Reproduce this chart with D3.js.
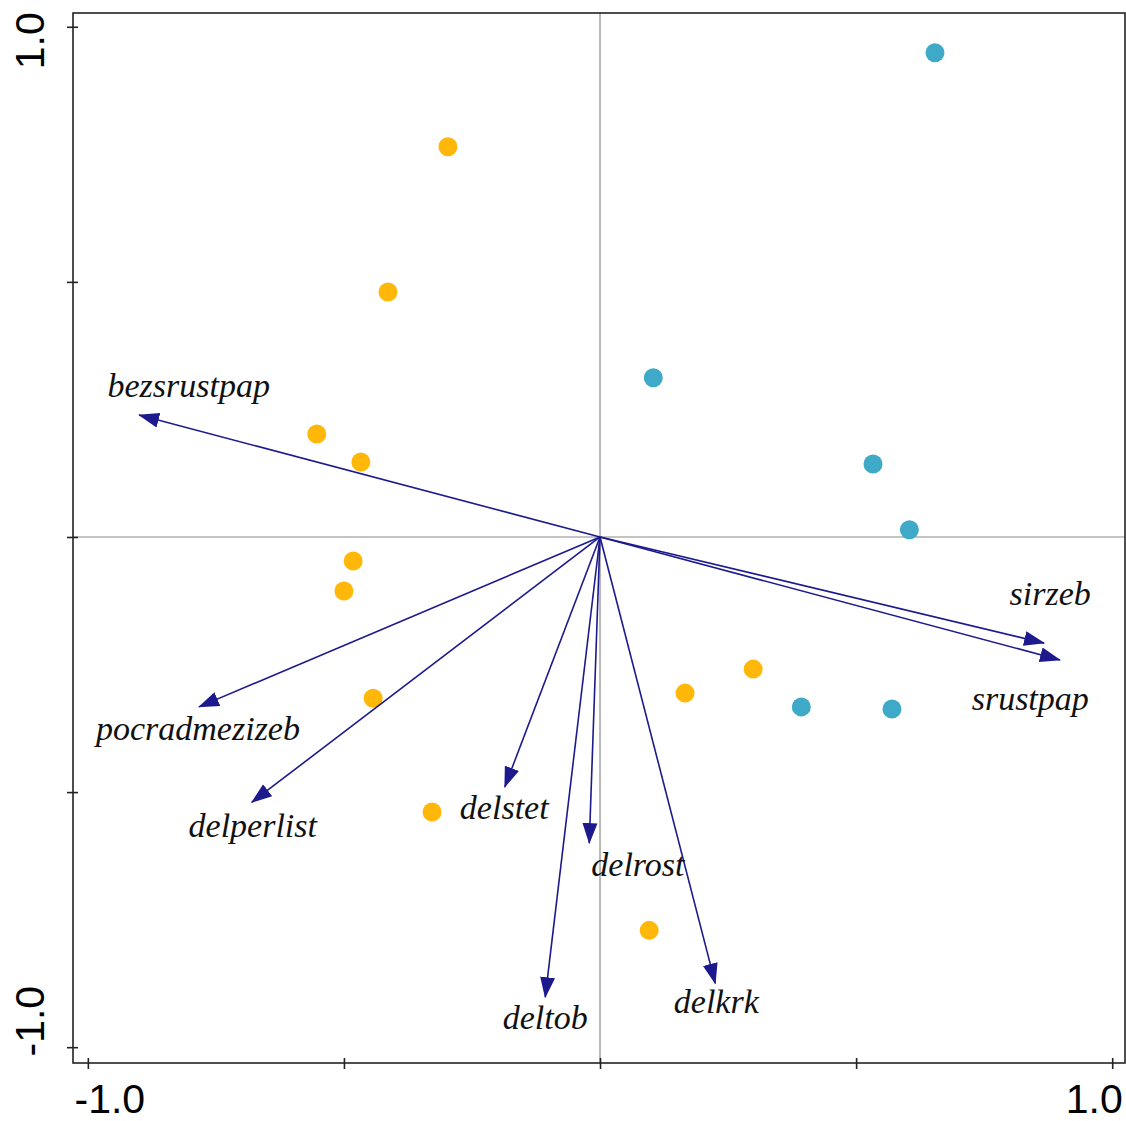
<!DOCTYPE html>
<html>
<head>
    <meta charset="utf-8">
    <title>Ordination biplot</title>
    <script src="https://cdnjs.cloudflare.com/ajax/libs/d3/7.8.5/d3.min.js"></script>
    <style>
        html, body {
            margin: 0;
            padding: 0;
            background: white;
        }
        .tick-label {
            font-family: "Liberation Sans", Arial, sans-serif;
            font-size: 41px;
            fill: black;
        }
        .var-label {
            font-family: "Liberation Serif", "Times New Roman", serif;
            font-style: italic;
            font-size: 34px;
            fill: #111;
        }
    </style>
</head>
<body>
    <div id="chart"></div>
    <script>
        // site scores (two groups)
        const orangeX = [-0.297, -0.414, -0.553, -0.467, -0.482, -0.500, -0.443, -0.328, 0.166, 0.299, 0.096];
        const orangeY = [0.765, 0.480, 0.202, 0.147, -0.047, -0.106, -0.316, -0.539, -0.306, -0.259, -0.771];
        const blueX = [0.654, 0.104, 0.533, 0.604, 0.393, 0.570];
        const blueY = [0.949, 0.312, 0.143, 0.014, -0.333, -0.337];

        // environmental variables (arrows)
        const varNames = ["bezsrustpap", "pocradmezizeb", "delperlist", "delstet", "delrost", "deltob", "delkrk", "sirzeb", "srustpap"];
        const varX = [-0.900, -0.783, -0.680, -0.186, -0.021, -0.107, 0.225, 0.867, 0.898];
        const varY = [0.239, -0.333, -0.520, -0.490, -0.600, -0.902, -0.875, -0.208, -0.241];
        // where the variable names were written (data units)
        const labelX = [-0.803, -0.785, -0.678, -0.187, 0.074, -0.107, 0.227, 0.879, 0.840];
        const labelY = [0.296, -0.376, -0.565, -0.531, -0.641, -0.941, -0.910, -0.110, -0.316];

        const xTicks = [-1, -0.5, 0, 0.5, 1];
        const yTicks = [-1, -0.5, 0, 0.5, 1];
        const xTickLabels = ["-1.0", "1.0"];
        const yTickLabels = ["-1.0", "1.0"];

        const width = 1126, height = 1121;
        const svg = d3.select("#chart").append("svg")
            .attr("width", width)
            .attr("height", height);

        const xScale = d3.scaleLinear().domain([-1.029, 1.025]).range([73, 1125]);
        const yScale = d3.scaleLinear().domain([-1.031, 1.027]).range([1063, 13]);

        const navy = "#1c1a8c";

        svg.append("defs").append("marker")
            .attr("id", "head")
            .attr("markerUnits", "userSpaceOnUse")
            .attr("viewBox", "0 -9 21 18")
            .attr("refX", 20)
            .attr("refY", 0)
            .attr("markerWidth", 21)
            .attr("markerHeight", 18)
            .attr("orient", "auto")
            .append("path")
            .attr("d", "M0,-7.5L21,0L0,7.5Z")
            .attr("fill", navy);

        // zero lines
        svg.append("line")
            .attr("x1", xScale(0)).attr("x2", xScale(0))
            .attr("y1", yScale.range()[0]).attr("y2", yScale.range()[1])
            .attr("stroke", "#8a8a8a").attr("stroke-width", 1.2);
        svg.append("line")
            .attr("x1", xScale.range()[0]).attr("x2", xScale.range()[1])
            .attr("y1", yScale(0)).attr("y2", yScale(0))
            .attr("stroke", "#8a8a8a").attr("stroke-width", 1.2);

        // points
        const pts = orangeX.map((x, i) => ({ x: x, y: orangeY[i], c: "#ffb80a" }))
            .concat(blueX.map((x, i) => ({ x: x, y: blueY[i], c: "#3faac7" })));
        svg.selectAll("circle.pt")
            .data(pts)
            .enter()
            .append("circle")
            .attr("class", "pt")
            .attr("cx", d => xScale(d.x))
            .attr("cy", d => yScale(d.y))
            .attr("r", 9.5)
            .attr("fill", d => d.c);

        // arrows
        svg.selectAll("line.arrow")
            .data(varNames)
            .enter()
            .append("line")
            .attr("class", "arrow")
            .attr("x1", xScale(0))
            .attr("y1", yScale(0))
            .attr("x2", (d, i) => xScale(varX[i]))
            .attr("y2", (d, i) => yScale(varY[i]))
            .attr("stroke", navy)
            .attr("stroke-width", 1.6)
            .attr("marker-end", "url(#head)");

        svg.selectAll("text.var-label")
            .data(varNames)
            .enter()
            .append("text")
            .attr("class", "var-label")
            .attr("x", (d, i) => xScale(labelX[i]))
            .attr("y", (d, i) => yScale(labelY[i]))
            .attr("text-anchor", "middle")
            .attr("dominant-baseline", "central")
            .text(d => d);

        // frame
        svg.append("rect")
            .attr("x", 73).attr("y", 13)
            .attr("width", 1125 - 73).attr("height", 1063 - 13)
            .attr("fill", "none")
            .attr("stroke", "#222")
            .attr("stroke-width", 1.6);

        // ticks
        const xAxis = d3.axisBottom(xScale).tickValues(xTicks).tickSize(6).tickFormat("");
        svg.append("g")
            .attr("transform", "translate(0," + (1063 - 5) + ")")
            .call(xAxis)
            .call(g => g.select(".domain").remove())
            .call(g => g.selectAll(".tick line").attr("stroke", "#222").attr("stroke-width", 1.6).attr("y2", 11));

        const yAxis = d3.axisLeft(yScale).tickValues(yTicks).tickSize(6).tickFormat("");
        svg.append("g")
            .attr("transform", "translate(" + (73 + 5) + ",0)")
            .call(yAxis)
            .call(g => g.select(".domain").remove())
            .call(g => g.selectAll(".tick line").attr("stroke", "#222").attr("stroke-width", 1.6).attr("x2", -11));

        // tick labels only at the ends, nudged inward as in the original
        svg.append("text").attr("class", "tick-label")
            .attr("x", xScale(-1) + 22).attr("y", 1113)
            .attr("text-anchor", "middle")
            .text(xTickLabels[0]);
        svg.append("text").attr("class", "tick-label")
            .attr("x", xScale(1) - 18).attr("y", 1113)
            .attr("text-anchor", "middle")
            .text(xTickLabels[1]);

        svg.append("text").attr("class", "tick-label")
            .attr("transform", "translate(44," + (yScale(-1) - 26) + ") rotate(-90)")
            .attr("text-anchor", "middle")
            .text(yTickLabels[0]);
        svg.append("text").attr("class", "tick-label")
            .attr("transform", "translate(44," + (yScale(1) + 14) + ") rotate(-90)")
            .attr("text-anchor", "middle")
            .text(yTickLabels[1]);
    </script>
</body>
</html>
